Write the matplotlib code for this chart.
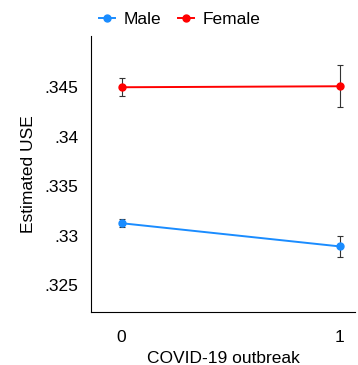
import matplotlib
matplotlib.use("Agg")
import matplotlib.pyplot as plt

covid = [0, 1]
male_mean = [0.33125, 0.3289]
male_err = [0.0004, 0.0011]
female_mean = [0.3450, 0.3451]
female_err = [0.0009, 0.0021]
yticks = [0.325, 0.33, 0.335, 0.34, 0.345]
ytick_labels = [".325", ".33", ".335", ".34", ".345"]

plt.rcParams["font.family"] = "Liberation Sans"

fig = plt.figure(figsize=(3.58, 3.65), dpi=100)
ax = fig.add_axes([0.254, 0.145, 0.738, 0.756])

for mean, err, color, label in [
    (male_mean, male_err, "#1a8cff", "Male"),
    (female_mean, female_err, "#ff0000", "Female"),
]:
    ax.errorbar(covid, mean, yerr=err, fmt="none", ecolor="#333333",
                elinewidth=0.8, capsize=2.5, capthick=0.8, zorder=2)
    ax.plot(covid, mean, color=color, lw=1.4, marker="o", ms=5, label=label, zorder=3)

ax.set_xlim(-0.14, 1.07)
ax.set_ylim(0.32226, 0.35017)
ax.set_xticks(covid)
ax.set_yticks(yticks)
ax.set_yticklabels(ytick_labels)
ax.tick_params(axis="y", length=0, labelsize=12.5, pad=9)
ax.tick_params(axis="x", length=0, labelsize=12.5, pad=13)
ax.spines["top"].set_visible(False)
ax.spines["right"].set_visible(False)
ax.set_xlabel("COVID-19 outbreak", fontsize=12.5, labelpad=4)
ax.set_ylabel("Estimated USE", fontsize=12.5, labelpad=6)

fig.legend(loc="upper left", bbox_to_anchor=(0.233, 1.01), ncol=2, frameon=False,
           fontsize=12.5, handlelength=0.9, columnspacing=1.0, handletextpad=0.5)

fig.savefig("out.png", dpi=100)
